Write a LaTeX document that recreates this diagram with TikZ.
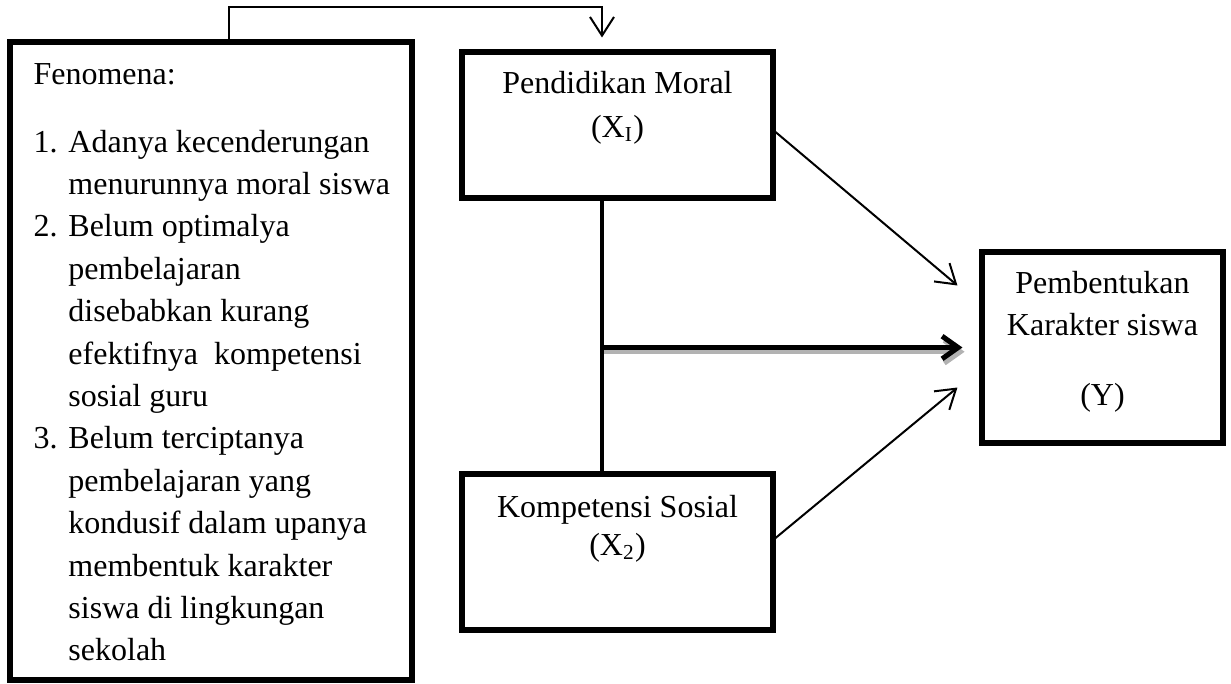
\documentclass[tikz,border=0pt]{standalone}
\usepackage{fontspec}
\setmainfont{Liberation Serif}
\usetikzlibrary{positioning}
\usetikzlibrary{calc}
\usetikzlibrary{arrows.meta}
\tikzstyle{block} = [draw, rectangle, line width=1.9pt, inner sep=0pt]
\tikzstyle{txt} = [inner sep=0pt, anchor=base west]
\tikzstyle{mid} = [inner sep=0pt, anchor=base]
\tikzstyle{link} = [line width=0.75pt, -{Straight Barb[length=7pt,width=9pt]}]
\tikzstyle{boldlink} = [line width=1.9pt, -{Straight Barb[length=6pt,width=8.5pt]}]
\newcommand{\boxlines}[2]{\fontsize{12}{#1}\selectfont\begin{tabular}[t]{@{}c@{}}#2\end{tabular}}
\newcommand{\itm}[1]{\makebox[13.1pt][l]{#1}}

\begin{document}
\begin{tikzpicture}[x=0.375pt,y=-0.375pt]
    \useasboundingbox (0,0) rectangle (1231,683);
    % boxes
    \node [block, minimum width=402*0.375pt, minimum height=638*0.375pt] (fen) at (211,361) {};
    \node [block, minimum width=311*0.375pt, minimum height=146*0.375pt] (pend) at (617.5,125) {};
    \node [block, minimum width=311*0.375pt, minimum height=156*0.375pt] (komp) at (617.5,552) {};
    \node [block, minimum width=241*0.375pt, minimum height=191*0.375pt] (kar) at (1102.5,347.5) {};

    % texts
    \node [txt, font=\fontsize{12}{15.9}\selectfont] (fenhead) at (33,84) {Fenomena:};
    \node [txt] (fenlist) at (33,152) {\fontsize{12}{15.9}\selectfont
      \begin{tabular}[t]{@{}l@{}}
        \itm{1.}Adanya kecenderungan\\
        \itm{}menurunnya moral siswa\\
        \itm{2.}Belum optimalya\\
        \itm{}pembelajaran\\
        \itm{}disebabkan kurang\\
        \itm{}efektifnya\ \ kompetensi\\
        \itm{}sosial guru\\
        \itm{3.}Belum terciptanya\\
        \itm{}pembelajaran yang\\
        \itm{}kondusif dalam upanya\\
        \itm{}membentuk karakter\\
        \itm{}siswa di lingkungan\\
        \itm{}sekolah
      \end{tabular}};
    \node [mid] (pendtext) at (617.5,93) {\boxlines{16.5pt}{Pendidikan Moral\\(X\textsubscript{I})}};
    \node [mid] (komptext) at (617.5,517) {\boxlines{14.25pt}{Kompetensi Sosial\\(X\textsubscript{2})}};
    \node [mid] (kartext) at (1102.5,293) {\boxlines{15.75pt}{Pembentukan\\Karakter siswa\\[10.5pt](Y)}};

    % connections
    \coordinate (join) at (602,347.5);
    \draw [link] ([xshift=18*0.375pt]fen.north) -- ++(0,-32) -| ($(pend.north)+(-15.5,-12)$);
    \draw [line width=1.6pt] ([xshift=-15.5*0.375pt]pend.south) -- ([xshift=-15.5*0.375pt]komp.north);
    \draw [boldlink, gray!60, transform canvas={shift={(0.8pt,-1.6pt)}}] (join) -- ($(kar.west)+(-17,0)$);
    \draw [boldlink] (join) -- ($(kar.west)+(-17,0)$);
    \draw [link] ($(pend.east)+(0,7)$) -- ($(kar.west)+(-22,-62)$);
    \draw [link] ($(komp.east)+(0,-14)$) -- ($(kar.west)+(-22,40)$);
\end{tikzpicture}
\end{document}
